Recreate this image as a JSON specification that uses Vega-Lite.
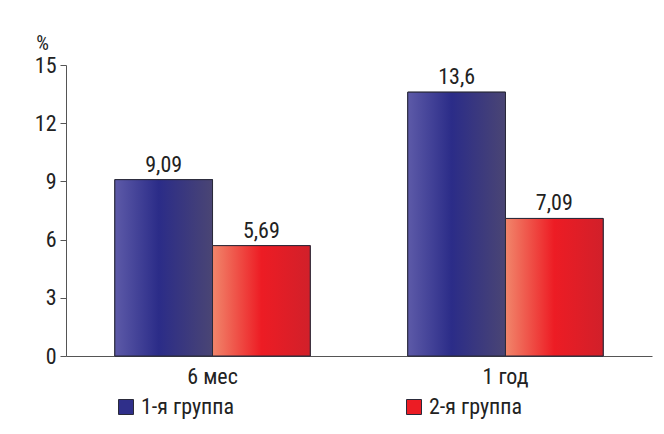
{
  "$schema": "https://vega.github.io/schema/vega-lite/v6.json",
  "width": 586,
  "height": 291,
  "autosize": {"type": "none"},
  "padding": {"left": 66, "top": 65, "right": 12, "bottom": 78},
  "background": "white",
  "config": {
    "view": {"stroke": null},
    "font": "Liberation Sans Narrow, Roboto Condensed, DejaVu Sans Condensed, Liberation Sans, sans-serif",
    "locale": {"number": {"decimal": ",", "thousands": " ", "grouping": [3], "currency": ["", ""]}}
  },
  "data": {
    "values": [
      {"period": "6 мес", "group": "1-я группа", "value": 9.09},
      {"period": "6 мес", "group": "2-я группа", "value": 5.69},
      {"period": "1 год", "group": "1-я группа", "value": 13.6},
      {"period": "1 год", "group": "2-я группа", "value": 7.09}
    ]
  },
  "encoding": {
    "x": {
      "field": "period",
      "type": "nominal",
      "sort": ["6 мес", "1 год"],
      "scale": {"paddingInner": 0.333, "paddingOuter": 0.1667},
      "axis": {"title": null, "ticks": false, "labelAngle": 0, "labelFontSize": 22, "labelColor": "#222", "labelPadding": 10, "domainColor": "#555"}
    },
    "xOffset": {"field": "group", "type": "nominal", "sort": ["1-я группа", "2-я группа"], "scale": {"paddingInner": 0, "paddingOuter": 0}},
    "y": {
      "field": "value",
      "type": "quantitative",
      "scale": {"domain": [0, 15]},
      "axis": {
        "values": [0, 3, 6, 9, 12, 15],
        "grid": false,
        "domainColor": "#555",
        "tickColor": "#555",
        "tickSize": 6,
        "labelFontSize": 22,
        "labelColor": "#222",
        "labelPadding": 4,
        "title": "%",
        "titleAngle": 0,
        "titleX": -24,
        "titleY": -22,
        "titleAlign": "center",
        "titleBaseline": "middle",
        "titleFontSize": 20,
        "titleFontWeight": "normal",
        "titleColor": "#222"
      }
    }
  },
  "layer": [
    {
      "mark": {"type": "bar", "stroke": "#2a2a3a", "strokeWidth": 1},
      "encoding": {
        "color": {
          "field": "group",
          "type": "nominal",
          "scale": {"domain": ["1-я группа", "2-я группа"], "range": ["#2f2f8a", "#ec1c24"]},
          "legend": {
            "orient": "none",
            "legendX": 49,
            "legendY": 331,
            "direction": "horizontal",
            "title": null,
            "symbolType": "square",
            "symbolSize": 225,
            "symbolStrokeColor": "#2a2a3a",
            "symbolStrokeWidth": 1,
            "symbolOpacity": 1,
            "labelFontSize": 22,
            "labelColor": "#222",
            "labelOffset": 4,
            "columnPadding": 169
          }
        }
      }
    },
    {
      "mark": {"type": "bar", "stroke": "#2a2a3a", "strokeWidth": 1},
      "encoding": {
        "fill": {
          "condition": {
            "test": "datum.group === '1-я группа'",
            "value": {"gradient": "linear", "x1": 0, "y1": 0, "x2": 1, "y2": 0, "stops": [{"offset": 0, "color": "#5d5aa8"}, {"offset": 0.45, "color": "#2b2c88"}, {"offset": 1, "color": "#4a4574"}]}
          },
          "value": {"gradient": "linear", "x1": 0, "y1": 0, "x2": 1, "y2": 0, "stops": [{"offset": 0, "color": "#f1866b"}, {"offset": 0.5, "color": "#ed1c24"}, {"offset": 1, "color": "#d1202a"}]}
        }
      }
    },
    {
      "mark": {"type": "text", "baseline": "alphabetic", "dy": -8, "fontSize": 22, "color": "#222"},
      "encoding": {
        "text": {"field": "value", "type": "quantitative", "format": "~g"}
      }
    }
  ]
}
